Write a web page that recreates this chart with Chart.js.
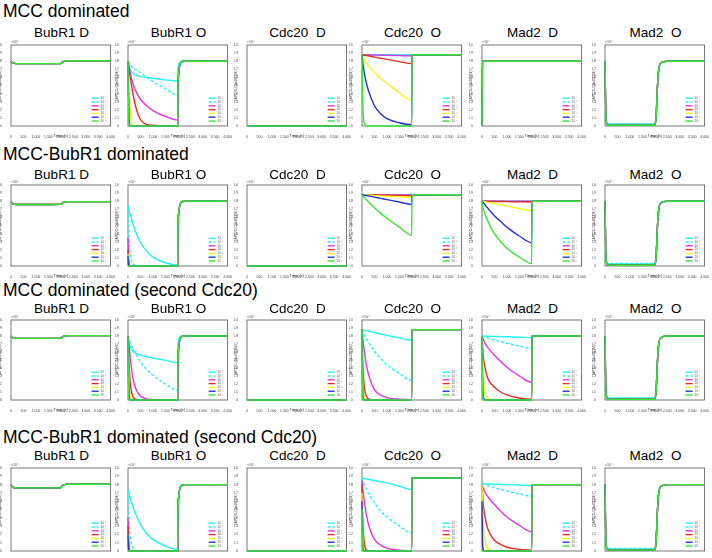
<!DOCTYPE html>
<html>
<head>
<meta charset="utf-8">
<script src="https://cdn.jsdelivr.net/npm/chart.js@4.4.0/dist/chart.umd.min.js"></script>
<style>
  body { margin: 0; background: #fff; width: 712px; height: 558px; overflow: hidden; position: relative; font-family: "Liberation Sans", Arial, sans-serif; }
  .section { position: absolute; left: 3px; font-size: 17.5px; color: #000; white-space: pre; line-height: 1; }
  .ptitle { position: absolute; font-size: 13.5px; color: #000; white-space: pre; text-align: center; width: 120px; line-height: 1; }
  canvas { position: absolute; }
</style>
</head>
<body>
<script>
// time grid shared by every panel (s)
const TIME = [0, 20, 50, 100, 200, 300, 500, 750, 1000, 1500, 1995, 2005, 2050, 2100, 2150, 2250, 2500, 4000];

const SECTION_TITLES = ['MCC dominated', 'MCC-BubR1 dominated', 'MCC dominated (second Cdc20)', 'MCC-BubR1 dominated (second Cdc20)'];
const PANEL_TITLES = ['BubR1 D', 'BubR1 O', 'Cdc20  D', 'Cdc20  O', 'Mad2  D', 'Mad2  O'];
const LEGEND_LABELS = ['10\u207b\u2077', '10\u207b\u2076', '10\u207b\u2075', '10\u207b\u2074', '10\u207b\u00b3', '10\u207b\u00b2', '10\u207b\u00b9'];
const X_TICKS = [0, 500, 1000, 1500, 2000, 2500, 3000, 3500, 4000];

// values after the switch at t=2000 (2005 .. 4000)
const BUB_O_RISE = [0.40, 0.69, 0.77, 0.79, 0.80, 0.80, 0.80];
const MAD_O_RISE = [0.02, 0.10, 0.45, 0.68, 0.78, 0.80, 0.80];
const CDC_O_JUMP = [0.88, 0.88, 0.88, 0.88, 0.88, 0.88, 0.88];
const MAD_D_JUMP = [0.80, 0.80, 0.80, 0.80, 0.80, 0.80, 0.80];

const ZEROS = [0, 0, 0, 0, 0, 0, 0, 0, 0, 0, 0, 0, 0, 0, 0, 0, 0, 0];

// series order: cyan, cyan dashed, magenta, red, yellow, blue, green  (x 1e-7 M)

// ---- MCC dominated
const r1BubD = [0.80, 0.795, 0.785, 0.775, 0.77, 0.77, 0.77, 0.77, 0.77, 0.77, 0.772, 0.775, 0.785, 0.795, 0.80, 0.805, 0.805, 0.805];
const r1BubO = [
  [0.80, 0.77, 0.73, 0.69, 0.65, 0.63, 0.61, 0.60, 0.59, 0.57, 0.555, 0.70, 0.77, 0.79, 0.80, 0.80, 0.80, 0.80],
  [0.80, 0.79, 0.775, 0.755, 0.72, 0.70, 0.66, 0.60, 0.55, 0.46, 0.38, 0.60, 0.75, 0.79, 0.80, 0.80, 0.80, 0.80],
  [0.80, 0.77, 0.72, 0.64, 0.52, 0.44, 0.33, 0.25, 0.19, 0.12, 0.075, ...BUB_O_RISE],
  [0.80, 0.74, 0.67, 0.58, 0.40, 0.25, 0.08, 0.02, 0.01, 0.003, 0, ...BUB_O_RISE],
  [0.80, 0.62, 0.40, 0.12, 0.01, 0, 0, 0, 0, 0, 0, ...BUB_O_RISE],
  [0.80, 0.40, 0.06, 0.005, 0, 0, 0, 0, 0, 0, 0, ...BUB_O_RISE],
  [0.80, 0.20, 0.01, 0, 0, 0, 0, 0, 0, 0, 0, ...BUB_O_RISE]
];
const r1CdcO = [
  [0.88, 0.88, 0.88, 0.88, 0.88, 0.88, 0.88, 0.88, 0.88, 0.88, 0.88, ...CDC_O_JUMP],
  [0.88, 0.88, 0.88, 0.88, 0.88, 0.88, 0.88, 0.88, 0.88, 0.88, 0.88, ...CDC_O_JUMP],
  [0.88, 0.88, 0.88, 0.879, 0.878, 0.877, 0.876, 0.874, 0.872, 0.869, 0.866, ...CDC_O_JUMP],
  [0.88, 0.879, 0.877, 0.874, 0.868, 0.862, 0.85, 0.836, 0.822, 0.795, 0.77, ...CDC_O_JUMP],
  [0.88, 0.87, 0.85, 0.82, 0.77, 0.73, 0.66, 0.59, 0.53, 0.41, 0.32, ...CDC_O_JUMP],
  [0.88, 0.82, 0.74, 0.64, 0.50, 0.40, 0.25, 0.15, 0.09, 0.04, 0.015, ...CDC_O_JUMP],
  [0.88, 0.45, 0.15, 0.03, 0.003, 0, 0, 0, 0, 0, 0, ...CDC_O_JUMP]
];
const r1MadD = [0, 0.80, 0.80, 0.80, 0.80, 0.80, 0.80, 0.80, 0.80, 0.80, 0.80, ...MAD_D_JUMP];
const r1MadO = [
  [0.80, 0.40, 0.08, 0.028, 0.025, 0.025, 0.025, 0.025, 0.025, 0.025, 0.025, ...MAD_O_RISE],
  [0.80, 0.38, 0.07, 0.022, 0.02, 0.02, 0.02, 0.02, 0.02, 0.02, 0.02, ...MAD_O_RISE],
  [0.80, 0.36, 0.07, 0.02, 0.015, 0.015, 0.015, 0.015, 0.015, 0.015, 0.015, ...MAD_O_RISE],
  [0.80, 0.36, 0.06, 0.018, 0.012, 0.012, 0.012, 0.012, 0.012, 0.012, 0.012, ...MAD_O_RISE],
  [0.72, 0.35, 0.06, 0.015, 0.01, 0.01, 0.01, 0.01, 0.01, 0.01, 0.01, ...MAD_O_RISE],
  [0.80, 0.35, 0.06, 0.015, 0.01, 0.01, 0.01, 0.01, 0.01, 0.01, 0.01, ...MAD_O_RISE],
  [0.80, 0.35, 0.06, 0.015, 0.01, 0.01, 0.01, 0.01, 0.01, 0.01, 0.01, ...MAD_O_RISE]
];

// ---- MCC-BubR1 dominated
const r2BubD = [0.79, 0.785, 0.775, 0.765, 0.76, 0.76, 0.76, 0.76, 0.76, 0.76, 0.762, 0.765, 0.775, 0.785, 0.79, 0.795, 0.795, 0.795];
const r2BubO = [
  [0.75, 0.72, 0.68, 0.63, 0.52, 0.43, 0.29, 0.18, 0.11, 0.04, 0.012, ...BUB_O_RISE],
  [0.70, 0.50, 0.30, 0.12, 0.03, 0.01, 0, 0, 0, 0, 0, ...BUB_O_RISE],
  [0.35, 0.15, 0.03, 0, 0, 0, 0, 0, 0, 0, 0, ...BUB_O_RISE],
  [0.20, 0.02, 0, 0, 0, 0, 0, 0, 0, 0, 0, ...BUB_O_RISE],
  [0.15, 0.01, 0, 0, 0, 0, 0, 0, 0, 0, 0, ...BUB_O_RISE],
  [0.12, 0.01, 0, 0, 0, 0, 0, 0, 0, 0, 0, ...BUB_O_RISE],
  [0, 0, 0, 0, 0, 0, 0, 0, 0, 0, 0, ...BUB_O_RISE]
];
const r2CdcO = [
  [0.88, 0.88, 0.88, 0.88, 0.88, 0.88, 0.88, 0.88, 0.88, 0.88, 0.88, ...CDC_O_JUMP],
  [0.88, 0.88, 0.88, 0.88, 0.88, 0.88, 0.88, 0.88, 0.88, 0.88, 0.88, ...CDC_O_JUMP],
  [0.88, 0.88, 0.88, 0.88, 0.88, 0.88, 0.879, 0.879, 0.878, 0.877, 0.876, ...CDC_O_JUMP],
  [0.88, 0.88, 0.88, 0.879, 0.879, 0.878, 0.877, 0.875, 0.873, 0.87, 0.867, ...CDC_O_JUMP],
  [0.88, 0.88, 0.879, 0.878, 0.876, 0.874, 0.87, 0.866, 0.862, 0.855, 0.848, ...CDC_O_JUMP],
  [0.88, 0.879, 0.877, 0.874, 0.868, 0.862, 0.85, 0.835, 0.82, 0.79, 0.76, ...CDC_O_JUMP],
  [0.88, 0.87, 0.86, 0.84, 0.81, 0.78, 0.72, 0.65, 0.59, 0.48, 0.38, ...CDC_O_JUMP]
];
const r2MadD = [
  [0.80, 0.80, 0.80, 0.80, 0.80, 0.80, 0.80, 0.80, 0.80, 0.80, 0.80, ...MAD_D_JUMP],
  [0.80, 0.80, 0.80, 0.80, 0.80, 0.80, 0.80, 0.80, 0.80, 0.80, 0.80, ...MAD_D_JUMP],
  [0.80, 0.80, 0.80, 0.80, 0.80, 0.80, 0.80, 0.80, 0.80, 0.80, 0.80, ...MAD_D_JUMP],
  [0.80, 0.80, 0.80, 0.80, 0.799, 0.798, 0.797, 0.796, 0.795, 0.792, 0.79, ...MAD_D_JUMP],
  [0.80, 0.799, 0.797, 0.794, 0.788, 0.782, 0.77, 0.755, 0.74, 0.71, 0.68, ...MAD_D_JUMP],
  [0.80, 0.792, 0.78, 0.762, 0.725, 0.69, 0.62, 0.55, 0.48, 0.37, 0.29, ...MAD_D_JUMP],
  [0.80, 0.74, 0.71, 0.66, 0.58, 0.51, 0.40, 0.30, 0.22, 0.11, 0.03, ...MAD_D_JUMP]
];
const r2MadO = [
  [0.80, 0.42, 0.09, 0.03, 0.025, 0.025, 0.025, 0.025, 0.025, 0.025, 0.025, ...MAD_O_RISE],
  [0.80, 0.45, 0.10, 0.035, 0.032, 0.03, 0.03, 0.03, 0.03, 0.03, 0.03, ...MAD_O_RISE],
  [0.80, 0.36, 0.07, 0.02, 0.015, 0.015, 0.015, 0.015, 0.015, 0.015, 0.015, ...MAD_O_RISE],
  [0.80, 0.36, 0.06, 0.018, 0.012, 0.012, 0.012, 0.012, 0.012, 0.012, 0.012, ...MAD_O_RISE],
  [0.66, 0.35, 0.06, 0.015, 0.01, 0.01, 0.01, 0.01, 0.01, 0.01, 0.01, ...MAD_O_RISE],
  [0.80, 0.35, 0.06, 0.015, 0.01, 0.01, 0.01, 0.01, 0.01, 0.01, 0.01, ...MAD_O_RISE],
  [0.80, 0.35, 0.06, 0.015, 0.01, 0.01, 0.01, 0.01, 0.01, 0.01, 0.01, ...MAD_O_RISE]
];

// ---- MCC dominated (second Cdc20)
const r3BubD = [0.80, 0.795, 0.785, 0.775, 0.77, 0.77, 0.77, 0.77, 0.77, 0.77, 0.772, 0.775, 0.785, 0.795, 0.80, 0.805, 0.805, 0.805];
const r3BubO = [
  [0.80, 0.76, 0.71, 0.66, 0.61, 0.585, 0.56, 0.54, 0.525, 0.495, 0.465, 0.68, 0.77, 0.79, 0.80, 0.80, 0.80, 0.80],
  [0.80, 0.78, 0.75, 0.71, 0.64, 0.58, 0.48, 0.38, 0.31, 0.20, 0.12, ...BUB_O_RISE],
  [0.80, 0.75, 0.65, 0.50, 0.27, 0.15, 0.05, 0.015, 0.005, 0, 0, ...BUB_O_RISE],
  [0.80, 0.60, 0.40, 0.18, 0.04, 0.01, 0, 0, 0, 0, 0, ...BUB_O_RISE],
  [0.80, 0.45, 0.15, 0.03, 0, 0, 0, 0, 0, 0, 0, ...BUB_O_RISE],
  [0.80, 0.30, 0.04, 0, 0, 0, 0, 0, 0, 0, 0, ...BUB_O_RISE],
  [0.80, 0.15, 0.01, 0, 0, 0, 0, 0, 0, 0, 0, ...BUB_O_RISE]
];
const r3CdcO = [
  [0.88, 0.879, 0.877, 0.873, 0.865, 0.858, 0.842, 0.825, 0.808, 0.777, 0.745, ...CDC_O_JUMP],
  [0.88, 0.86, 0.84, 0.81, 0.75, 0.70, 0.61, 0.52, 0.44, 0.33, 0.25, ...CDC_O_JUMP],
  [0.88, 0.82, 0.72, 0.60, 0.40, 0.28, 0.13, 0.06, 0.03, 0.01, 0.005, ...CDC_O_JUMP],
  [0.88, 0.60, 0.35, 0.15, 0.03, 0.01, 0, 0, 0, 0, 0, ...CDC_O_JUMP],
  [0.88, 0.40, 0.12, 0.02, 0, 0, 0, 0, 0, 0, 0, ...CDC_O_JUMP],
  [0.88, 0.25, 0.03, 0, 0, 0, 0, 0, 0, 0, 0, ...CDC_O_JUMP],
  [0.88, 0.10, 0.01, 0, 0, 0, 0, 0, 0, 0, 0, ...CDC_O_JUMP]
];
const r3MadD = [
  [0.80, 0.80, 0.80, 0.799, 0.798, 0.797, 0.795, 0.792, 0.79, 0.785, 0.78, ...MAD_D_JUMP],
  [0.80, 0.798, 0.795, 0.79, 0.78, 0.77, 0.75, 0.73, 0.71, 0.675, 0.645, ...MAD_D_JUMP],
  [0.80, 0.78, 0.76, 0.72, 0.67, 0.63, 0.56, 0.48, 0.41, 0.30, 0.22, ...MAD_D_JUMP],
  [0.80, 0.68, 0.55, 0.44, 0.30, 0.23, 0.16, 0.10, 0.065, 0.025, 0.01, ...MAD_D_JUMP],
  [0.80, 0.55, 0.30, 0.12, 0.03, 0.01, 0, 0, 0, 0, 0, ...MAD_D_JUMP],
  [0.80, 0.30, 0.06, 0.01, 0, 0, 0, 0, 0, 0, 0, ...MAD_D_JUMP],
  [0.80, 0.15, 0.01, 0, 0, 0, 0, 0, 0, 0, 0, ...MAD_D_JUMP]
];
const r3MadO = r1MadO;

// ---- MCC-BubR1 dominated (second Cdc20)
const r4BubD = [0.80, 0.79, 0.775, 0.765, 0.76, 0.76, 0.76, 0.76, 0.76, 0.76, 0.762, 0.765, 0.78, 0.795, 0.80, 0.805, 0.805, 0.805];
const r4BubO = [
  [0.74, 0.72, 0.68, 0.63, 0.53, 0.45, 0.32, 0.21, 0.14, 0.06, 0.02, ...BUB_O_RISE],
  [0.72, 0.55, 0.33, 0.15, 0.04, 0.01, 0, 0, 0, 0, 0, ...BUB_O_RISE],
  [0.40, 0.20, 0.05, 0, 0, 0, 0, 0, 0, 0, 0, ...BUB_O_RISE],
  [0.30, 0.08, 0.01, 0, 0, 0, 0, 0, 0, 0, 0, ...BUB_O_RISE],
  [0.20, 0.03, 0, 0, 0, 0, 0, 0, 0, 0, 0, ...BUB_O_RISE],
  [0.20, 0.03, 0, 0, 0, 0, 0, 0, 0, 0, 0, ...BUB_O_RISE],
  [0, 0, 0, 0, 0, 0, 0, 0, 0, 0, 0, ...BUB_O_RISE]
];
const r4CdcO = [
  [0.88, 0.879, 0.877, 0.874, 0.868, 0.862, 0.85, 0.835, 0.82, 0.78, 0.74, ...CDC_O_JUMP],
  [0.88, 0.86, 0.83, 0.79, 0.73, 0.67, 0.58, 0.48, 0.41, 0.30, 0.22, ...CDC_O_JUMP],
  [0.85, 0.78, 0.70, 0.58, 0.40, 0.28, 0.14, 0.07, 0.035, 0.01, 0.005, ...CDC_O_JUMP],
  [0.80, 0.50, 0.25, 0.08, 0.01, 0, 0, 0, 0, 0, 0, ...CDC_O_JUMP],
  [0.70, 0.30, 0.05, 0, 0, 0, 0, 0, 0, 0, 0, ...CDC_O_JUMP],
  [0.60, 0.15, 0.01, 0, 0, 0, 0, 0, 0, 0, 0, ...CDC_O_JUMP],
  [0.50, 0.05, 0, 0, 0, 0, 0, 0, 0, 0, 0, ...CDC_O_JUMP]
];
const r4MadD = [
  [0.81, 0.81, 0.81, 0.809, 0.808, 0.807, 0.805, 0.802, 0.80, 0.795, 0.79, ...MAD_D_JUMP],
  [0.81, 0.808, 0.805, 0.80, 0.79, 0.78, 0.76, 0.74, 0.72, 0.69, 0.66, ...MAD_D_JUMP],
  [0.80, 0.78, 0.76, 0.72, 0.67, 0.63, 0.56, 0.48, 0.41, 0.31, 0.23, ...MAD_D_JUMP],
  [0.80, 0.70, 0.57, 0.45, 0.30, 0.22, 0.13, 0.08, 0.045, 0.02, 0.01, ...MAD_D_JUMP],
  [0.80, 0.50, 0.32, 0.16, 0.05, 0.02, 0, 0, 0, 0, 0, ...MAD_D_JUMP],
  [0.60, 0.15, 0.02, 0, 0, 0, 0, 0, 0, 0, 0, ...MAD_D_JUMP],
  [0, 0, 0, 0, 0, 0, 0, 0, 0, 0, 0, ...MAD_D_JUMP]
];
const r4MadO = r2MadO;

function same(a) { return [a, a, a, a, a, a, a]; }

const PANELS = [
  [same(r1BubD), r1BubO, same(ZEROS), r1CdcO, same(r1MadD), r1MadO],
  [same(r2BubD), r2BubO, same(ZEROS), r2CdcO, r2MadD, r2MadO],
  [same(r3BubD), r3BubO, same(ZEROS), r3CdcO, r3MadD, r3MadO],
  [same(r4BubD), r4BubO, same(ZEROS), r4CdcO, r4MadD, r4MadO]
];

const COLORS = ['#22f4f4', '#22f4f4', '#e034e0', '#e82a22', '#f4f41c', '#2434d4', '#34e834'];

// layout
const COL_X = [11, 128, 247, 362, 482, 605];
const PLOT_W = 101;
const ROW_Y = [{ top: 45, bottom: 126 }, { top: 185, bottom: 266 }, { top: 320, bottom: 400 }, { top: 468, bottom: 551 }];
const SECTION_TOP = [3, 146, 282, 429];
const TITLE_TOP = [26, 168, 302, 449];

const framePlugin = {
  id: 'frame',
  beforeDatasetsDraw(chart) {
    const a = chart.chartArea, ctx = chart.ctx;
    ctx.save();
    ctx.strokeStyle = '#555';
    ctx.lineWidth = 0.8;
    ctx.strokeRect(a.left, a.top, a.right - a.left, a.bottom - a.top);
    ctx.fillStyle = '#444';
    ctx.font = '3.5px "Liberation Sans", Arial';
    ctx.textBaseline = 'bottom';
    ctx.fillText('\u00d710\u207b\u2077', a.left, a.top - 1);
    ctx.restore();
  }
};

const legendPlugin = {
  id: 'boxLegend',
  afterDatasetsDraw(chart) {
    const a = chart.chartArea, ctx = chart.ctx;
    ctx.save();
    chart.data.datasets.forEach((ds, i) => {
      const y = a.bottom - 5 - (6 - i) * 3.8;
      ctx.strokeStyle = ds.borderColor;
      ctx.lineWidth = 1.4;
      ctx.setLineDash(ds.borderDash || []);
      ctx.beginPath();
      ctx.moveTo(a.right - 19, y);
      ctx.lineTo(a.right - 12, y);
      ctx.stroke();
      ctx.setLineDash([]);
      ctx.fillStyle = '#555';
      ctx.font = '3px "Liberation Sans", Arial';
      ctx.textBaseline = 'middle';
      ctx.fillText(ds.label, a.right - 10, y);
    });
    ctx.restore();
  }
};

function addText(cls, text, left, top) {
  const d = document.createElement('div');
  d.className = cls;
  d.textContent = text;
  d.style.left = left + 'px';
  d.style.top = top + 'px';
  document.body.appendChild(d);
}

function makePanel(row, col, series) {
  const padL = 13, padT = 8, padR = 4, padB = 12;
  const top = ROW_Y[row].top, h = ROW_Y[row].bottom - top;
  const canvas = document.createElement('canvas');
  canvas.width = PLOT_W + padL + padR;
  canvas.height = h + padT + padB;
  canvas.style.left = (COL_X[col] - padL) + 'px';
  canvas.style.top = (top - padT) + 'px';
  document.body.appendChild(canvas);

  new Chart(canvas, {
    type: 'line',
    data: {
      datasets: series.map((vals, i) => ({
        label: LEGEND_LABELS[i],
        data: vals.map((v, k) => ({ x: TIME[k], y: v })),
        borderColor: COLORS[i],
        borderDash: i === 1 ? [3, 2] : [],
        borderWidth: 1.4,
        pointRadius: 0,
        cubicInterpolationMode: 'monotone',
        fill: false,
        clip: 3,
        order: 6 - i
      }))
    },
    options: {
      responsive: false,
      animation: false,
      devicePixelRatio: 1,
      layout: { autoPadding: false, padding: { left: 0, top: padT, right: padR, bottom: 0 } },
      plugins: { legend: { display: false }, tooltip: { enabled: false } },
      scales: {
        x: {
          type: 'linear', min: 0, max: 4000,
          afterBuildTicks: s => { s.ticks = X_TICKS.map(v => ({ value: v })); },
          ticks: { font: { size: 3.5 }, color: '#444', padding: 1, maxRotation: 0, autoSkip: false },
          grid: { display: false },
          border: { display: false },
          title: { display: true, text: 'Time (s)', font: { size: 4 }, color: '#333', padding: 0 },
          afterFit: s => { s.height = padB; }
        },
        y: {
          min: 0, max: 1,
          ticks: { stepSize: 0.1, font: { size: 3.5 }, color: '#444', padding: 1 },
          grid: { display: false },
          border: { display: false },
          title: { display: true, text: '[APC/C:Cdc20] (M)', font: { size: 3.5 }, color: '#333', padding: 0 },
          afterFit: s => { s.width = padL; }
        }
      }
    },
    plugins: [framePlugin, legendPlugin]
  });
}

SECTION_TITLES.forEach((t, r) => addText('section', t, 3, SECTION_TOP[r]));
PANELS.forEach((row, r) => {
  row.forEach((series, c) => {
    addText('ptitle', PANEL_TITLES[c], COL_X[c] + PLOT_W / 2 - 60, TITLE_TOP[r]);
    makePanel(r, c, series);
  });
});
</script>
</body>
</html>
